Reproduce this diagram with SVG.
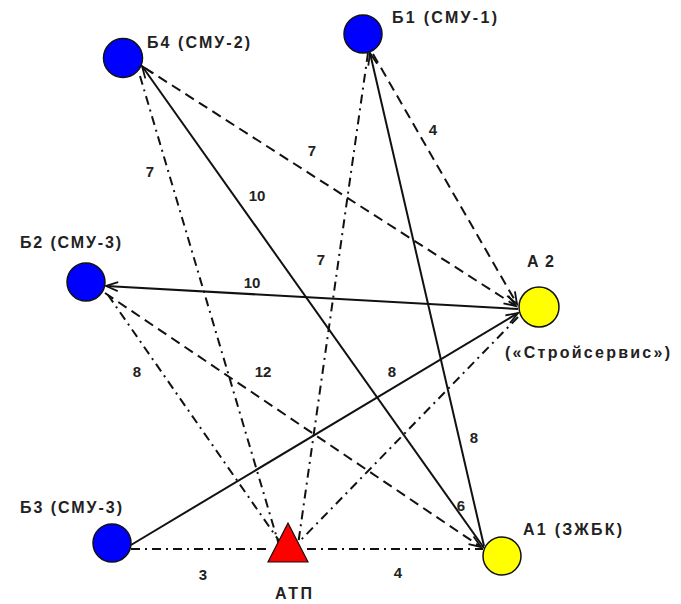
<svg xmlns="http://www.w3.org/2000/svg" width="681" height="604" viewBox="0 0 681 604">
<style>
.t{font-family:"Liberation Sans",Arial,sans-serif;font-weight:bold;font-size:15px;fill:#222}
.n{font-size:16px}
.s{stroke:#111;stroke-width:2;fill:none}
.d{stroke:#111;stroke-width:2;fill:none;stroke-dasharray:10 6}
.dd{stroke:#111;stroke-width:2;fill:none;stroke-dasharray:9 5 2 5}
.b{fill:#0000ff;stroke:#111;stroke-width:1.5}
.y{fill:#ffff00;stroke:#111;stroke-width:1.5}
</style>
<defs>
<marker id="ar" markerUnits="userSpaceOnUse" markerWidth="14" markerHeight="10" refX="12" refY="5" orient="auto" overflow="visible">
<path d="M0,0.5 L12,5 L0,9.5" fill="none" stroke="#111" stroke-width="1.8"/>
</marker>
</defs>
<g id="connectors">
<line class="s" x1="484" y1="548" x2="142" y2="66" marker-end="url(#ar)"/>
<line class="s" x1="484" y1="546" x2="370" y2="53" marker-end="url(#ar)"/>
<line class="s" x1="518" y1="309" x2="106" y2="286" marker-end="url(#ar)"/>
<line class="s" x1="131" y1="545" x2="518" y2="313" marker-end="url(#ar)"/>
<line class="d" x1="145" y1="68" x2="516" y2="306" marker-end="url(#ar)"/>
<line class="d" x1="373" y1="54" x2="517" y2="304" marker-end="url(#ar)"/>
<line class="d" x1="105" y1="293" x2="481" y2="547" marker-end="url(#ar)"/>
<line class="dd" x1="108" y1="295" x2="282" y2="545"/>
<line class="dd" x1="140" y1="76" x2="279" y2="545"/>
<line class="dd" x1="368" y1="53" x2="298" y2="545"/>
<line class="dd" x1="518" y1="317" x2="296" y2="545"/>
<line class="dd" x1="131" y1="549" x2="270" y2="549"/>
<line class="dd" x1="307" y1="549" x2="483" y2="549"/>
</g>
<g id="edge-labels" class="t" text-anchor="middle">
<text x="433" y="135">4</text>
<text x="312" y="156">7</text>
<text x="150" y="177">7</text>
<text x="257" y="201">10</text>
<text x="321" y="265">7</text>
<text x="252" y="288">10</text>
<text x="137" y="377">8</text>
<text x="263" y="377">12</text>
<text x="392" y="377">8</text>
<text x="474" y="443">8</text>
<text x="461" y="511">6</text>
<text x="203" y="580">3</text>
<text x="398" y="578">4</text>
</g>
<g id="node-B4"><circle class="b" cx="123" cy="58" r="19.5"/><text class="t n" x="147" y="48" textLength="103" lengthAdjust="spacing">Б4 (СМУ-2)</text></g>
<g id="node-B1"><circle class="b" cx="363" cy="34" r="19"/><text class="t n" x="392" y="23" textLength="105" lengthAdjust="spacing">Б1 (СМУ-1)</text></g>
<g id="node-B2"><circle class="b" cx="86" cy="282" r="19"/><text class="t n" x="20" y="248" textLength="101" lengthAdjust="spacing">Б2 (СМУ-3)</text></g>
<g id="node-B3"><circle class="b" cx="112" cy="543" r="19"/><text class="t n" x="20" y="513" textLength="102" lengthAdjust="spacing">Б3 (СМУ-3)</text></g>
<g id="node-A2"><circle class="y" cx="539" cy="307" r="20"/><text class="t n" x="527" y="267" textLength="27" lengthAdjust="spacing">А2</text><text class="t n" x="505" y="358" textLength="165" lengthAdjust="spacing">(«Стройсервис»)</text></g>
<g id="node-A1"><circle class="y" cx="502" cy="556" r="19"/><text class="t n" x="523" y="535" textLength="99" lengthAdjust="spacing">А1 (ЗЖБК)</text></g>
<g id="node-ATP"><polygon points="288,523 268,562 308,562" fill="#ff0000" stroke="#111" stroke-width="1.2"/><text class="t n" x="275" y="599" textLength="37" lengthAdjust="spacing">АТП</text></g>
</svg>
